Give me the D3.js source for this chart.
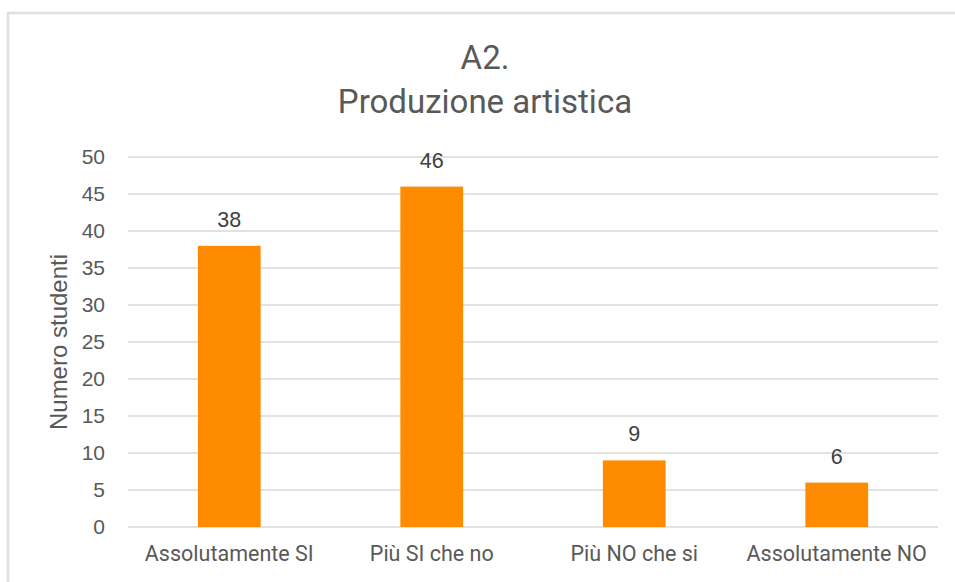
<!DOCTYPE html>
<html>
<head>
<meta charset="utf-8">
<script src="https://cdn.jsdelivr.net/npm/d3@7"></script>
<style>
  body { margin: 0; background: #fff; }
</style>
</head>
<body>
<script>
const categories = ["Assolutamente SI", "Più SI che no", "Più NO che si", "Assolutamente NO"];
const values = [38, 46, 9, 6];
const yTicks = [0, 5, 10, 15, 20, 25, 30, 35, 40, 45, 50];
const titleLines = ["A2.", "Produzione artistica"];
const yTitle = "Numero studenti";

const W = 955, H = 582;
const margin = { top: 157, right: 17, bottom: 55, left: 128 };
const width = W - margin.left - margin.right;
const height = H - margin.top - margin.bottom;

const svg = d3.select("body").append("svg")
    .attr("width", W)
    .attr("height", H);

// chart frame (only top and left edges are visible in the crop)
svg.append("rect")
    .attr("x", 8).attr("y", 13)
    .attr("width", 1000).attr("height", 1000)
    .attr("fill", "none")
    .attr("stroke", "#e0e0e0")
    .attr("stroke-width", 2.5);

const g = svg.append("g")
    .attr("transform", "translate(" + margin.left + "," + margin.top + ")");

const x = d3.scaleBand()
    .domain(categories)
    .range([0, width])
    .paddingInner(0.69)
    .paddingOuter(0.345);

const y = d3.scaleLinear()
    .domain([0, 50])
    .range([height, 0]);

// gridlines
g.selectAll(".grid")
    .data(yTicks)
  .enter().append("line")
    .attr("class", "grid")
    .attr("x1", 0)
    .attr("x2", width)
    .attr("y1", d => y(d))
    .attr("y2", d => y(d))
    .attr("stroke", "#d9d9d9")
    .attr("stroke-width", 1.3);

// y axis labels
const yAxis = g.append("g")
    .call(d3.axisLeft(y).tickValues(yTicks).tickSize(0).tickPadding(23));
yAxis.select(".domain").remove();
yAxis.selectAll("text")
    .attr("fill", "#595959")
    .style("font-family", "'Liberation Sans', Arial, sans-serif")
    .style("font-size", "21px");

// x axis labels
const xAxis = g.append("g")
    .attr("transform", "translate(0," + height + ")")
    .call(d3.axisBottom(x).tickSize(0).tickPadding(19));
xAxis.select(".domain").remove();
xAxis.selectAll("text")
    .attr("fill", "#595959")
    .style("font-family", "Roboto, sans-serif")
    .style("font-size", "21.5px");

// bars
g.selectAll(".bar")
    .data(values)
  .enter().append("rect")
    .attr("class", "bar")
    .attr("x", (d, i) => x(categories[i]))
    .attr("y", d => y(d))
    .attr("width", x.bandwidth())
    .attr("height", d => height - y(d))
    .attr("fill", "#ff8c00");

// value labels
g.selectAll(".label")
    .data(values)
  .enter().append("text")
    .attr("class", "label")
    .attr("x", (d, i) => x(categories[i]) + x.bandwidth() / 2)
    .attr("y", d => y(d) - 19)
    .attr("text-anchor", "middle")
    .attr("fill", "#404040")
    .style("font-family", "'Liberation Sans', Arial, sans-serif")
    .style("font-size", "21.5px")
    .text(d => d);

// title
svg.selectAll(".title")
    .data(titleLines)
  .enter().append("text")
    .attr("class", "title")
    .attr("x", 485)
    .attr("y", (d, i) => 69 + i * 44)
    .attr("text-anchor", "middle")
    .attr("fill", "#595959")
    .style("font-family", "Roboto, sans-serif")
    .style("font-size", "33px")
    .text(d => d);

// y axis title
svg.append("text")
    .attr("transform", "translate(67," + (margin.top + height / 2) + ") rotate(-90)")
    .attr("text-anchor", "middle")
    .attr("fill", "#595959")
    .style("font-family", "'Liberation Sans', Arial, sans-serif")
    .style("font-size", "24px")
    .text(yTitle);
</script>
</body>
</html>
